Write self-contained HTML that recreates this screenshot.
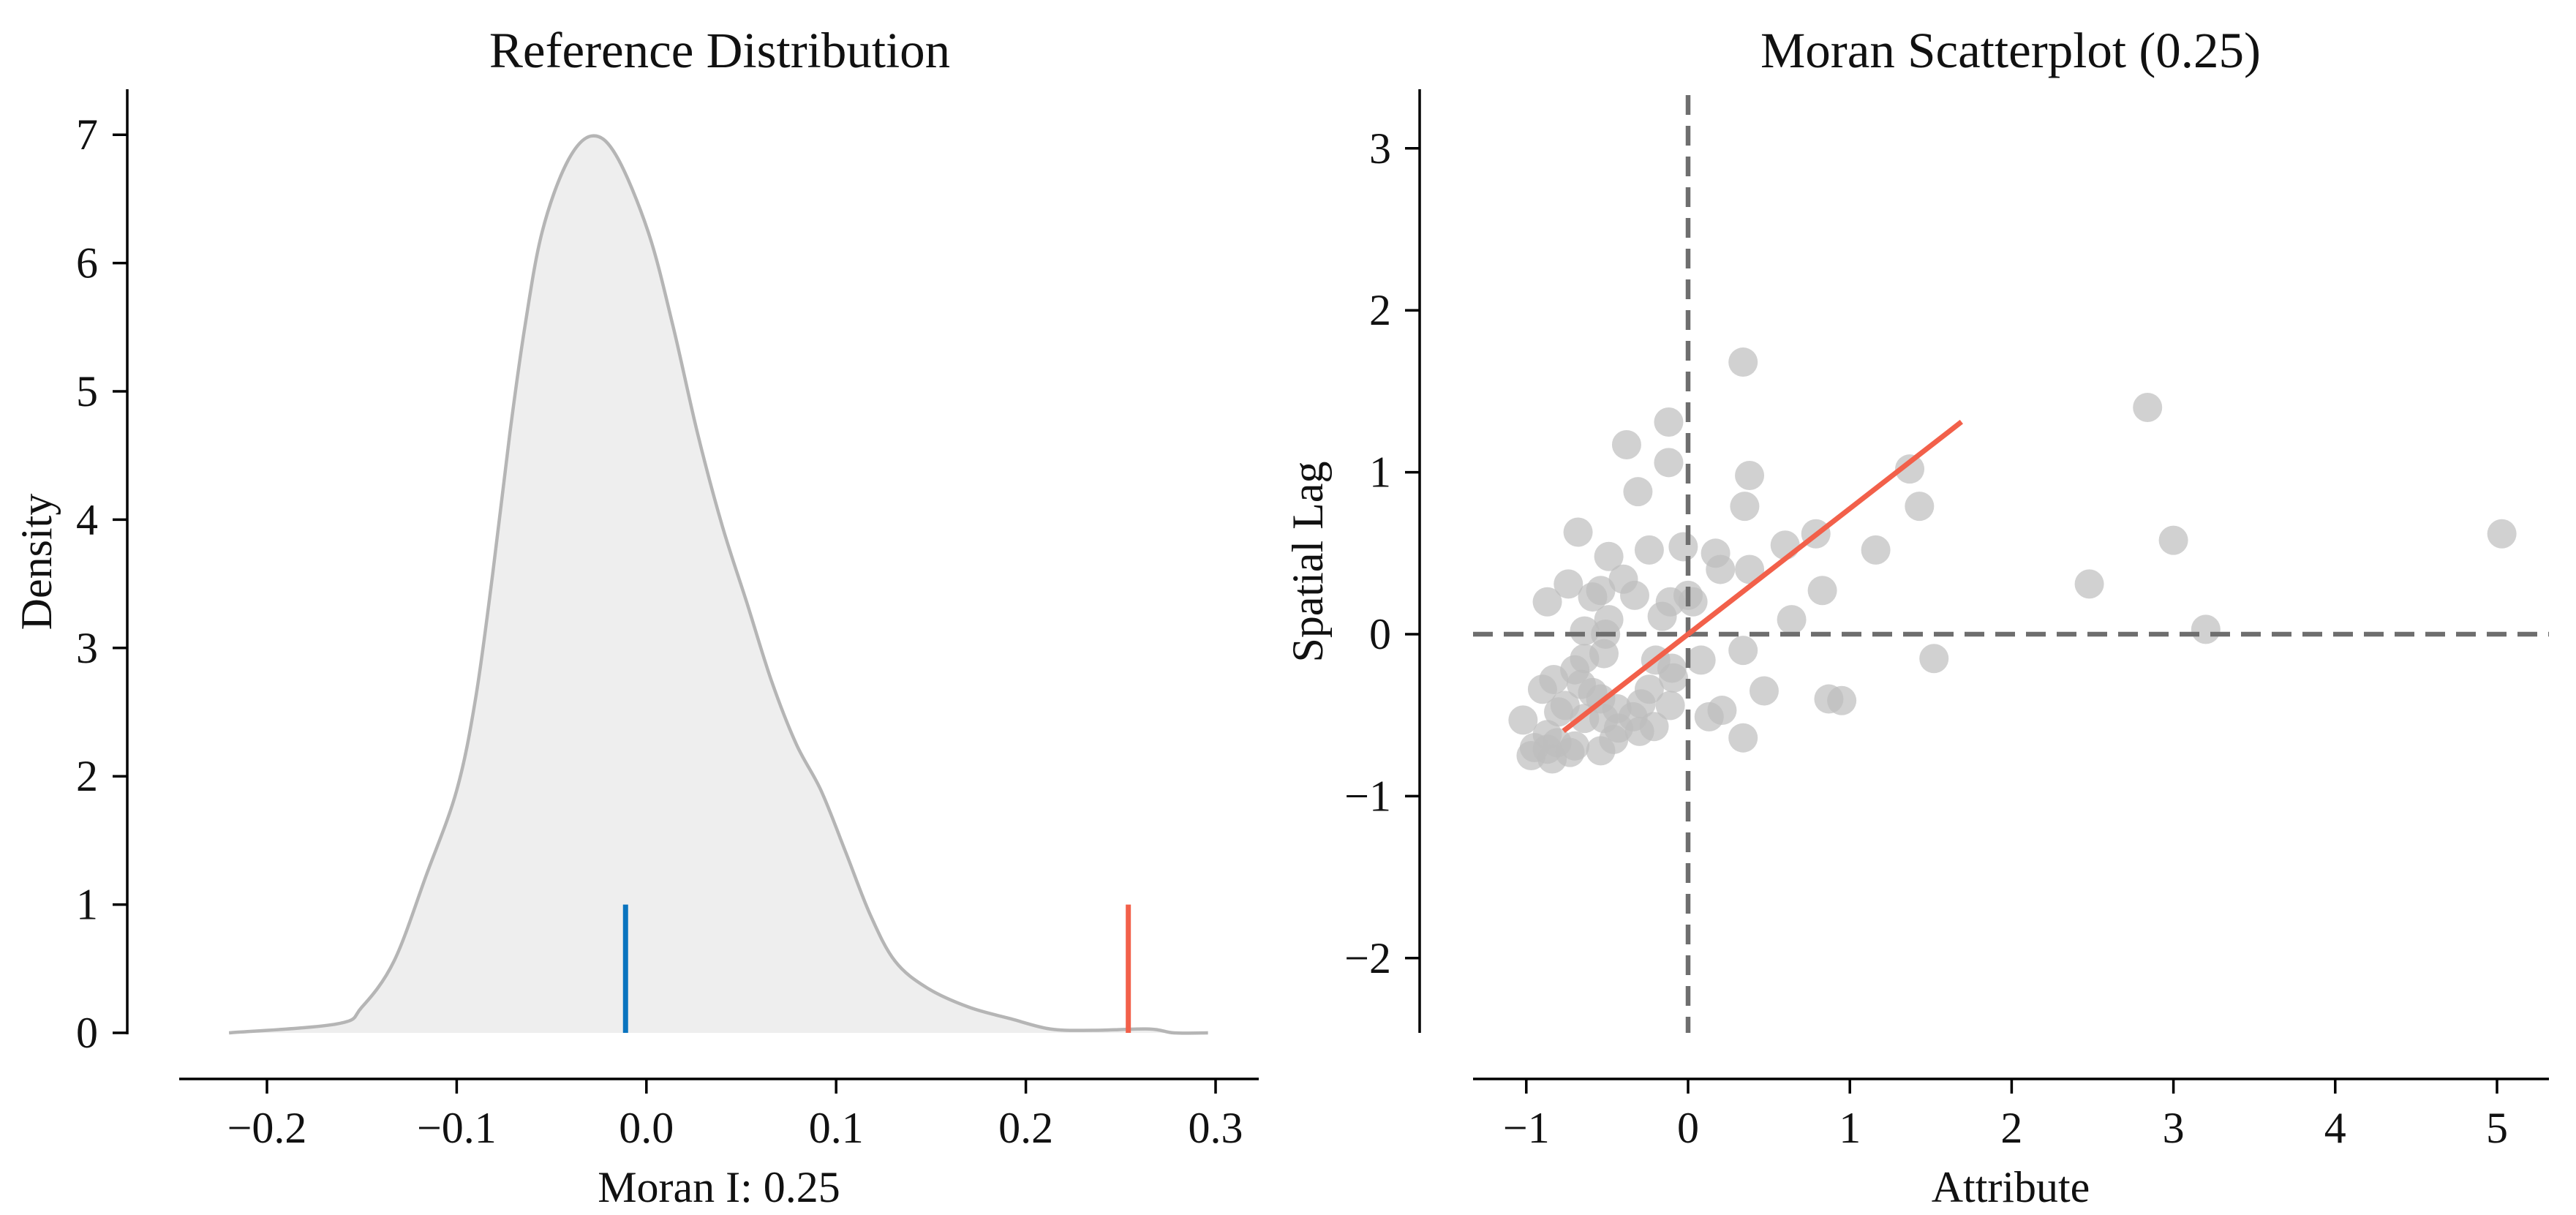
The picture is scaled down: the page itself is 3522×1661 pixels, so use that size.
<!DOCTYPE html>
<html><head><meta charset="utf-8"><style>
html,body{margin:0;padding:0;background:#fff;overflow:hidden}
svg{display:block;font-family:"Liberation Serif","Times New Roman",serif}
</style></head><body>
<svg id="c" width="3522" height="1661" viewBox="0 0 3522 1661"></svg>
<script>
// ---- Reference distribution data ----
const kdeX=[-0.22,-0.163,-0.15,-0.133,-0.116,-0.1,-0.09,-0.081,-0.072,-0.064,-0.055,-0.042,-0.029,-0.016,0.001,0.014,0.027,0.04,0.053,0.066,0.079,0.092,0.105,0.118,0.131,0.148,0.17,0.192,0.213,0.235,0.265,0.278,0.296];
const kdeY=[0,0.07,0.2,0.56,1.23,1.89,2.61,3.58,4.67,5.51,6.24,6.78,6.99,6.84,6.24,5.51,4.67,3.95,3.35,2.74,2.25,1.89,1.41,0.92,0.56,0.35,0.2,0.11,0.03,0.02,0.03,0,0];
const expectedI=-0.011;
const observedI=0.254;
const leftXTicks=[-0.2,-0.1,0.0,0.1,0.2,0.3];
const leftXTickLabels=["\u22120.2","\u22120.1","0.0","0.1","0.2","0.3"];
const leftYTicks=[0,1,2,3,4,5,6,7];
// ---- Moran scatter data ----
const attrX=[0.34,2.84,-0.12,-0.38,-0.12,1.37,0.38,-0.31,0.35,1.43,-0.68,0.79,5.03,3.0,0.6,-0.03,-0.24,0.17,1.16,-0.49,0.2,0.38,-0.4,-0.74,2.48,-0.54,0.83,-0.33,-0.59,0,-0.87,-0.11,0.03,-0.16,-0.49,0.64,-0.64,-0.51,3.2,0.34,-0.52,-0.64,-0.2,0.08,1.52,-0.1,-0.7,-0.09,-0.83,-0.9,-0.66,-0.24,0.47,-0.59,-0.54,0.87,0.95,-0.11,-0.29,-0.76,-0.44,-0.8,0.21,0.13,-0.34,-0.52,-1.02,-0.64,-0.21,-0.43,-0.3,0.34,-0.87,-0.46,-0.81,-0.7,-0.95,-0.87,-0.54,-0.73,-0.97,-0.84];
const lagY=[1.68,1.4,1.31,1.17,1.06,1.02,0.98,0.88,0.79,0.79,0.63,0.62,0.62,0.58,0.55,0.54,0.52,0.5,0.52,0.48,0.4,0.4,0.34,0.31,0.31,0.27,0.27,0.24,0.23,0.24,0.2,0.2,0.2,0.11,0.09,0.09,0.02,0,0.03,-0.1,-0.12,-0.15,-0.16,-0.16,-0.15,-0.21,-0.22,-0.27,-0.28,-0.34,-0.31,-0.34,-0.35,-0.36,-0.4,-0.4,-0.41,-0.44,-0.43,-0.44,-0.46,-0.48,-0.47,-0.51,-0.51,-0.52,-0.53,-0.52,-0.57,-0.58,-0.6,-0.64,-0.62,-0.65,-0.67,-0.69,-0.7,-0.71,-0.72,-0.73,-0.75,-0.77];
const fitSlope=0.776;
const fitRange=[-0.77,1.69];
const rightXTicks=[-1,0,1,2,3,4,5];
const rightXTickLabels=["\u22121","0","1","2","3","4","5"];
const rightYTicks=[-2,-1,0,1,2,3];
const rightYTickLabels=["\u22122","\u22121","0","1","2","3"];

const NS="http://www.w3.org/2000/svg";
const svg=document.getElementById('c');
function mk(tag,attrs,parent){const e=document.createElementNS(NS,tag);for(const k in attrs)e.setAttribute(k,attrs[k]);(parent||svg).appendChild(e);return e;}
function txt(s,attrs,parent){const e=mk('text',attrs,parent);e.textContent=s;return e;}
function smooth(pts){let d='M'+pts[0][0]+','+pts[0][1];for(let i=0;i<pts.length-1;i++){const p0=pts[i-1]||pts[i],p1=pts[i],p2=pts[i+1],p3=pts[i+2]||p2;const c1=[p1[0]+(p2[0]-p0[0])/6,p1[1]+(p2[1]-p0[1])/6],c2=[p2[0]-(p3[0]-p1[0])/6,p2[1]-(p3[1]-p1[1])/6];d+=' C'+c1[0]+','+c1[1]+' '+c2[0]+','+c2[1]+' '+p2[0]+','+p2[1];}return d;}

const AX=1475, SPT=122, SPB=1412, FS=60;
const lx=v=>365+(v+0.2)*2594;
const ly=v=>1412-v*175.4;
const rx=v=>2308+v*221.2;
const ry=v=>867-v*221.4;

// ---------- Left panel ----------
const gL=mk('g',{});


const pts=kdeX.map((v,i)=>[lx(v),ly(kdeY[i])]);
const cd=smooth(pts);
const area=mk('path',{d:cd+' L'+lx(kdeX[kdeX.length-1])+','+ly(0)+' L'+lx(kdeX[0])+','+ly(0)+' Z',fill:'#eeeeee',stroke:'none'},gL);


const curve=mk('path',{d:cd,fill:'none',stroke:'#b5b5b5','stroke-width':4.5},gL);


const bl=mk('line',{x1:lx(expectedI),x2:lx(expectedI),y1:ly(0),y2:ly(1),stroke:'#0a74bf','stroke-width':7},gL);


const rl=mk('line',{x1:lx(observedI),x2:lx(observedI),y1:ly(0),y2:ly(1),stroke:'#f2604a','stroke-width':7},gL);


const lys=mk('line',{x1:174,x2:174,y1:SPT,y2:SPB+2,stroke:'#000','stroke-width':3.5},gL);


const lxs=mk('line',{x1:245,x2:1721,y1:AX,y2:AX,stroke:'#000','stroke-width':3.5},gL);


leftYTicks.forEach(v=>{
  const t=mk('line',{x1:154,x2:174,y1:ly(v),y2:ly(v),stroke:'#000','stroke-width':3.5},gL);
  
  
  const l=txt(String(v),{x:134,y:ly(v)+20,'font-size':FS,'text-anchor':'end',fill:'#111'},gL);
  
  
});
leftXTicks.forEach((v,i)=>{
  const t=mk('line',{x1:lx(v),x2:lx(v),y1:AX,y2:AX+20,stroke:'#000','stroke-width':3.5},gL);
  
  
  const l=txt(leftXTickLabels[i],{x:lx(v),y:1562,'font-size':FS,'text-anchor':'middle',fill:'#111'},gL);
  
  
});
const t1=txt('Reference Distribution',{x:984,y:92,'font-size':69,'text-anchor':'middle',fill:'#111'},gL);


const xl1=txt('Moran I: 0.25',{x:983,y:1643,'font-size':FS,'text-anchor':'middle',fill:'#111'},gL);


const yl1=txt('Density',{x:0,y:0,'font-size':FS,'text-anchor':'middle',fill:'#111',transform:'translate(70,768) rotate(-90)'},gL);



// ---------- Right panel ----------
const gR=mk('g',{});


const gP=mk('g',{},gR);


attrX.forEach((v,i)=>{
  const c=mk('circle',{cx:rx(v),cy:ry(lagY[i]),r:20,fill:'#bdbdbd','fill-opacity':0.7},gP);
  
  
});
const vd=mk('line',{x1:rx(0),x2:rx(0),y1:SPT+8,y2:SPB,stroke:'#6e6e6e','stroke-width':6.5,'stroke-dasharray':'27,15'},gR);


const hd=mk('line',{x1:2014,x2:3485,y1:ry(0),y2:ry(0),stroke:'#6e6e6e','stroke-width':6.5,'stroke-dasharray':'27,15'},gR);


const fl=mk('line',{x1:rx(fitRange[0]),y1:ry(fitSlope*fitRange[0]),x2:rx(fitRange[1]),y2:ry(fitSlope*fitRange[1]),stroke:'#f2604a','stroke-width':7},gR);


const rys=mk('line',{x1:1941,x2:1941,y1:SPT,y2:SPB,stroke:'#000','stroke-width':3.5},gR);


const rxs=mk('line',{x1:2014,x2:3485,y1:AX,y2:AX,stroke:'#000','stroke-width':3.5},gR);


rightYTicks.forEach((v,i)=>{
  const t=mk('line',{x1:1921,x2:1941,y1:ry(v),y2:ry(v),stroke:'#000','stroke-width':3.5},gR);
  
  
  const l=txt(rightYTickLabels[i],{x:1902,y:ry(v)+20,'font-size':FS,'text-anchor':'end',fill:'#111'},gR);
  
  
});
rightXTicks.forEach((v,i)=>{
  const t=mk('line',{x1:rx(v),x2:rx(v),y1:AX,y2:AX+20,stroke:'#000','stroke-width':3.5},gR);
  
  
  const l=txt(rightXTickLabels[i],{x:rx(v),y:1562,'font-size':FS,'text-anchor':'middle',fill:'#111'},gR);
  
  
});
const t2=txt('Moran Scatterplot (0.25)',{x:2749,y:92,'font-size':69,'text-anchor':'middle',fill:'#111'},gR);


const xl2=txt('Attribute',{x:2749,y:1643,'font-size':FS,'text-anchor':'middle',fill:'#111'},gR);


const yl2=txt('Spatial Lag',{x:0,y:0,'font-size':FS,'text-anchor':'middle',fill:'#111',transform:'translate(1808,768) rotate(-90)'},gR);


</script>
</body></html>
